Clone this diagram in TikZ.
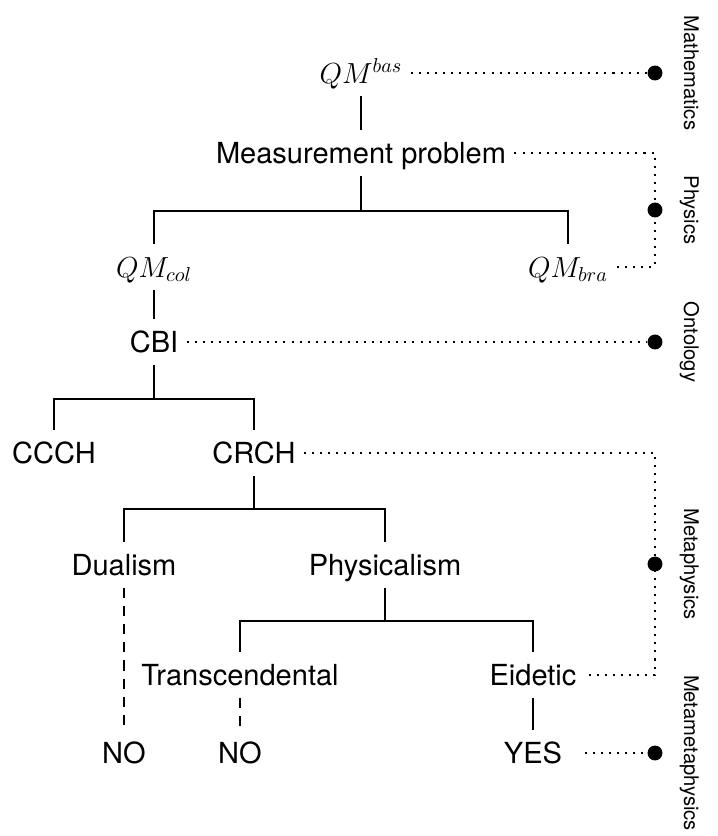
\documentclass[tikz,border=0pt]{standalone}
\usepackage{amsmath}
\usepackage{fontspec}
\setmainfont{TeX Gyre Heros}
\usepackage{tikz}

\tikzset{
  lbl/.style={font=\Large, inner xsep=4pt, inner ysep=0pt, text height=16.3pt, text depth=6pt},
  tree/.style={line width=0.8pt},
  lvlline/.style={line width=1pt, dash pattern=on 1pt off 3pt},
  lvldot/.style={circle, fill, inner sep=0pt, minimum size=7.4pt},
  lvlname/.style={rotate=-90, anchor=base, font=\normalsize}
}

\begin{document}
\begin{tikzpicture}[x=0.496pt, y=-0.496pt]
          \useasboundingbox (0,0) rectangle (718,836);

          \node[lbl] (qmbas) at (361,73) {$QM^{bas}$};
          \node[lbl] (mp) at (361,153) {Measurement problem};
          \node[lbl] (qmcol) at (154,267) {$QM_{col}$};
          \node[lbl] (qmbra) at (568,267) {$QM_{bra}$};
          \node[lbl] (cbi) at (154,342) {CBI};
          \node[lbl] (ccch) at (54,453) {CCCH};
          \node[lbl] (crch) at (254,453) {CRCH};
          \node[lbl] (dual) at (124,565) {Dualism};
          \node[lbl] (phys) at (385,565) {Physicalism};
          \node[lbl] (trans) at (240,675) {Transcendental};
          \node[lbl] (eid) at (533,675) {Eidetic};
          \node[lbl] (no1) at (124,753) {NO};
          \node[lbl] (no2) at (240,753) {NO};
          \node[lbl] (yes) at (533,753) {YES};

          % tree
          \draw[tree] (qmbas.south) -- (mp.north);
          \foreach \c in {qmcol,qmbra} {
            \draw[tree] (mp.south) -- ++(0,35) -| (\c.north);
          }
          \draw[tree] (qmcol.south) -- (cbi.north);
          \foreach \c in {ccch,crch} {
            \draw[tree] (cbi.south) -- ++(0,34) -| (\c.north);
          }
          \foreach \c in {dual,phys} {
            \draw[tree] (crch.south) -- ++(0,33) -| (\c.north);
          }
          \foreach \c in {trans,eid} {
            \draw[tree] (phys.south) -- ++(0,33) -| (\c.north);
          }
          \draw[tree,dash pattern=on 5pt off 4pt] (dual.south) -- (no1.north);
          \draw[tree,dash pattern=on 5pt off 4pt] (trans.south) -- (no2.north);
          \draw[tree] (eid.south) -- (yes.north);

          % levels
          \node[lvldot] (dmath) at (655,73) {};
          \node[lvldot] (dphys) at (655,210) {};
          \node[lvldot] (dont) at (655,342) {};
          \node[lvldot] (dmeta) at (655,564) {};
          \node[lvldot] (dmm) at (655,753) {};

          \draw[lvlline] (qmbas.east) -- (dmath);
          \draw[lvlline] (mp.east) -| (dphys.center) |- (qmbra.east);
          \draw[lvlline] (cbi.east) -- (dont);
          \draw[lvlline] (crch.east) -| (dmeta.center) |- (eid.east);
          \draw[lvlline,shorten <=7pt] (yes.east) -- (dmm);

          \node[lvlname] (nmath) at (684,73) {Mathematics};
          \node[lvlname] (nphys) at (684,210) {Physics};
          \node[lvlname] (nont) at (684,342) {Ontology};
          \node[lvlname] (nmeta) at (684,564) {Metaphysics};
          \node[lvlname] (nmm) at (684,753) {Metametaphysics};
        \end{tikzpicture}
\end{document}
